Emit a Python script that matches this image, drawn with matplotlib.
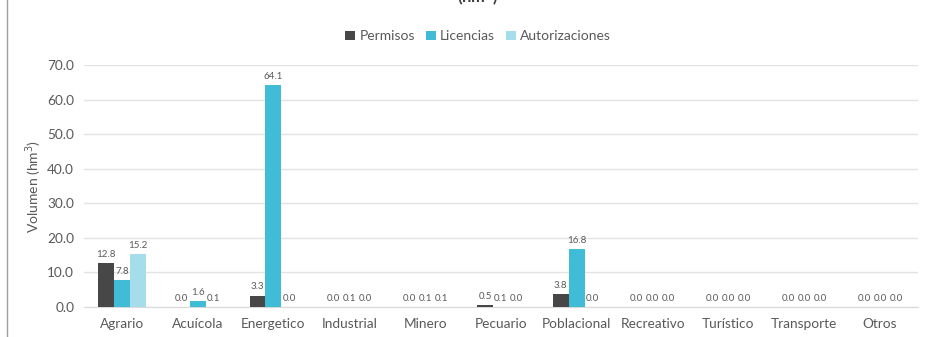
import numpy as np
import matplotlib.pyplot as plt
from matplotlib.lines import Line2D

plt.rcParams['font.family'] = ['Lato', 'DejaVu Sans']

categories = ["Agrario", "Acuícola", "Energetico", "Industrial", "Minero", "Pecuario",
              "Poblacional", "Recreativo", "Turístico", "Transporte", "Otros"]
permisos = [12.8, 0.0, 3.3, 0.0, 0.0, 0.5, 3.8, 0.0, 0.0, 0.0, 0.0]
licencias = [7.8, 1.6, 64.1, 0.1, 0.1, 0.1, 16.8, 0.0, 0.0, 0.0, 0.0]
autorizaciones = [15.2, 0.1, 0.0, 0.0, 0.1, 0.0, 0.0, 0.0, 0.0, 0.0, 0.0]
series = [("Permisos", permisos, "#474748"),
          ("Licencias", licencias, "#41BCD6"),
          ("Autorizaciones", autorizaciones, "#A5DEEA")]

TXT = "#595959"

fig = plt.figure(figsize=(9.32, 3.37), dpi=100)
ax = fig.add_axes([0.090, 0.089, 0.895, 0.718])

x = np.arange(len(categories))
w = 0.21
for i, (name, vals, color) in enumerate(series):
    bars = ax.bar(x + (i - 1) * w, vals, width=w, color=color, label=name, zorder=3)
    for b, v in zip(bars, vals):
        ax.text(b.get_x() + b.get_width() / 2, v + 1.2, f"{v:.1f}", ha="center", va="bottom",
                fontsize=7, color=TXT)

ax.set_xlim(-0.5, len(categories) - 0.5)
ax.set_ylim(0, 70)
ax.set_yticks(np.arange(0, 71, 10))
ax.set_yticklabels([f"{t:.1f}" for t in np.arange(0, 71, 10)])
ax.set_xticks(x)
ax.set_xticklabels(categories)
ax.tick_params(axis="both", length=0, colors=TXT, labelsize=9.8)
ax.tick_params(axis="x", pad=8)
ax.tick_params(axis="y", pad=7)
ax.grid(axis="y", color="#E3E3E3", linewidth=1, zorder=0)
for s in ["top", "right", "left"]:
    ax.spines[s].set_visible(False)
ax.spines["bottom"].set_color("#D9D9D9")
ax.set_ylabel("Volumen (hm$^3$)", color=TXT, fontsize=10, labelpad=2)

fig.legend(loc="center", bbox_to_anchor=(0.513, 0.892), ncol=3, frameon=False,
           fontsize=10, handlelength=0.7, handleheight=0.7, handletextpad=0.3,
           columnspacing=0.8, labelcolor=TXT)

# title sits mostly above the top edge, only its lower part shows
fig.text(0.513, 1.012, "(hm$^3$)", ha="center", va="center", fontsize=12,
         fontweight="bold", color="#404040")
fig.add_artist(Line2D([0.0075, 0.0075], [0, 1], color="#A0A0A0", linewidth=1))

fig.savefig("out.png", dpi=100)
